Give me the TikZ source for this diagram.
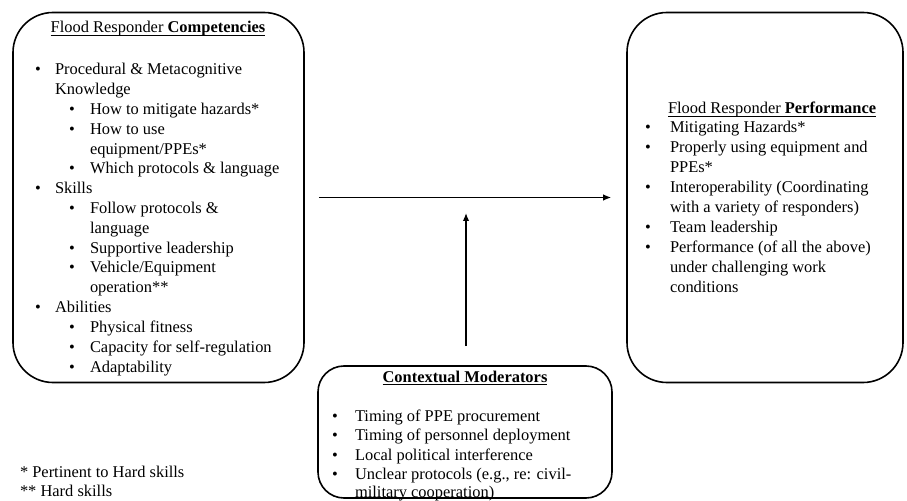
\documentclass[tikz,border=0pt]{standalone}
\usepackage{fontspec}
\setmainfont{Liberation Serif}
\usetikzlibrary{arrows.meta}
\tikzset{
  box/.style={draw, line width=1.6bp, rectangle, inner sep=0pt},
  txt/.style={inner sep=0pt, outer sep=0pt, font=\fontsize{16.5}{20}\selectfont},
  arr/.style={line width=1.4bp, -{Latex[length=8bp,width=6.5bp]}}
}
\newcommand\myul[1]{\setbox0\hbox{#1}\rlap{\rule[-3bp]{\wd0}{1bp}}\box0}
\newcommand\itemline[5]{%
  \node[txt,anchor=base] (#1b) at (#2,#4) {\textbullet};
  \node[txt,anchor=base west] (#1) at (#3,#4) {#5};}
\begin{document}
\begin{tikzpicture}[x=1bp,y=-1bp]
\useasboundingbox (0,0) rectangle (907,501);
% boxes
\node[box, rounded corners=40bp, minimum width=291bp, minimum height=370bp] (comp) at (158.5,197.5) {};
\node[box, rounded corners=40bp, minimum width=276bp, minimum height=370bp] (perf) at (765,197.5) {};
\node[box, rounded corners=26bp, minimum width=294bp, minimum height=132bp] (mod) at (465,432) {};
% arrows
\coordinate (join) at (466,213);
\draw[arr, shorten <=14bp, shorten >=15bp] (comp) -- (perf);
\draw[arr, shorten <=19bp] (mod.north -| join) -- (join);
% left box text
\node[txt,anchor=base] (ct) at (158,33) {\myul{Flood Responder \textbf{Competencies}}};
\itemline{a1}{38}{55}{75}{Procedural \& Metacognitive}
\node[txt,anchor=base west] (a1x) at (55,94.8) {Knowledge};
\itemline{a2}{72}{90}{114.6}{How to mitigate hazards*}
\itemline{a3}{72}{90}{134.4}{How to use}
\node[txt,anchor=base west] (a3x) at (90,154.2) {equipment/PPEs*};
\itemline{a4}{72}{90}{174}{Which protocols \& language}
\itemline{a5}{38}{55}{193.8}{Skills}
\itemline{a6}{72}{90}{213.6}{Follow protocols \&}
\node[txt,anchor=base west] (a6x) at (90,233.4) {language};
\itemline{a7}{72}{90}{253.2}{Supportive leadership}
\itemline{a8}{72}{90}{273}{Vehicle/Equipment}
\node[txt,anchor=base west] (a8x) at (90,292.8) {operation**};
\itemline{a9}{38}{55}{312.6}{Abilities}
\itemline{a10}{72}{90}{332.4}{Physical fitness}
\itemline{a11}{72}{90}{352.2}{Capacity for self-regulation}
\itemline{a12}{72}{90}{372}{Adaptability}
% right box text
\node[txt,anchor=base west] (pt) at (668,114) {\myul{Flood Responder \textbf{Performance}}};
\itemline{b1}{648}{670}{133}{Mitigating Hazards*}
\itemline{b2}{648}{670}{153}{Properly using equipment and}
\node[txt,anchor=base west] (b2x) at (670,173) {PPEs*};
\itemline{b3}{648}{670}{193}{Interoperability (Coordinating}
\node[txt,anchor=base west] (b3x) at (670,213) {with a variety of responders)};
\itemline{b4}{648}{670}{233}{Team leadership}
\itemline{b5}{648}{670}{253}{Performance (of all the above)}
\node[txt,anchor=base west] (b5x) at (670,273) {under challenging work};
\node[txt,anchor=base west] (b5y) at (670,293) {conditions};
% bottom box text
\node[txt,anchor=base] (mt) at (465,382) {\myul{\textbf{Contextual Moderators}}};
\itemline{c1}{335}{355}{421}{Timing of PPE procurement}
\itemline{c2}{335}{355}{440.5}{Timing of personnel deployment}
\itemline{c3}{335}{355}{460}{Local political interference}
\itemline{c4}{335}{355}{479.5}{Unclear protocols (e.g., re: civil-}
\node[txt,anchor=base west] (c4x) at (355,497) {military cooperation)};
% footnotes
\node[txt,anchor=base west] (f1) at (20,477) {* Pertinent to Hard skills};
\node[txt,anchor=base west] (f2) at (20,496) {** Hard skills};
\end{tikzpicture}
\end{document}
